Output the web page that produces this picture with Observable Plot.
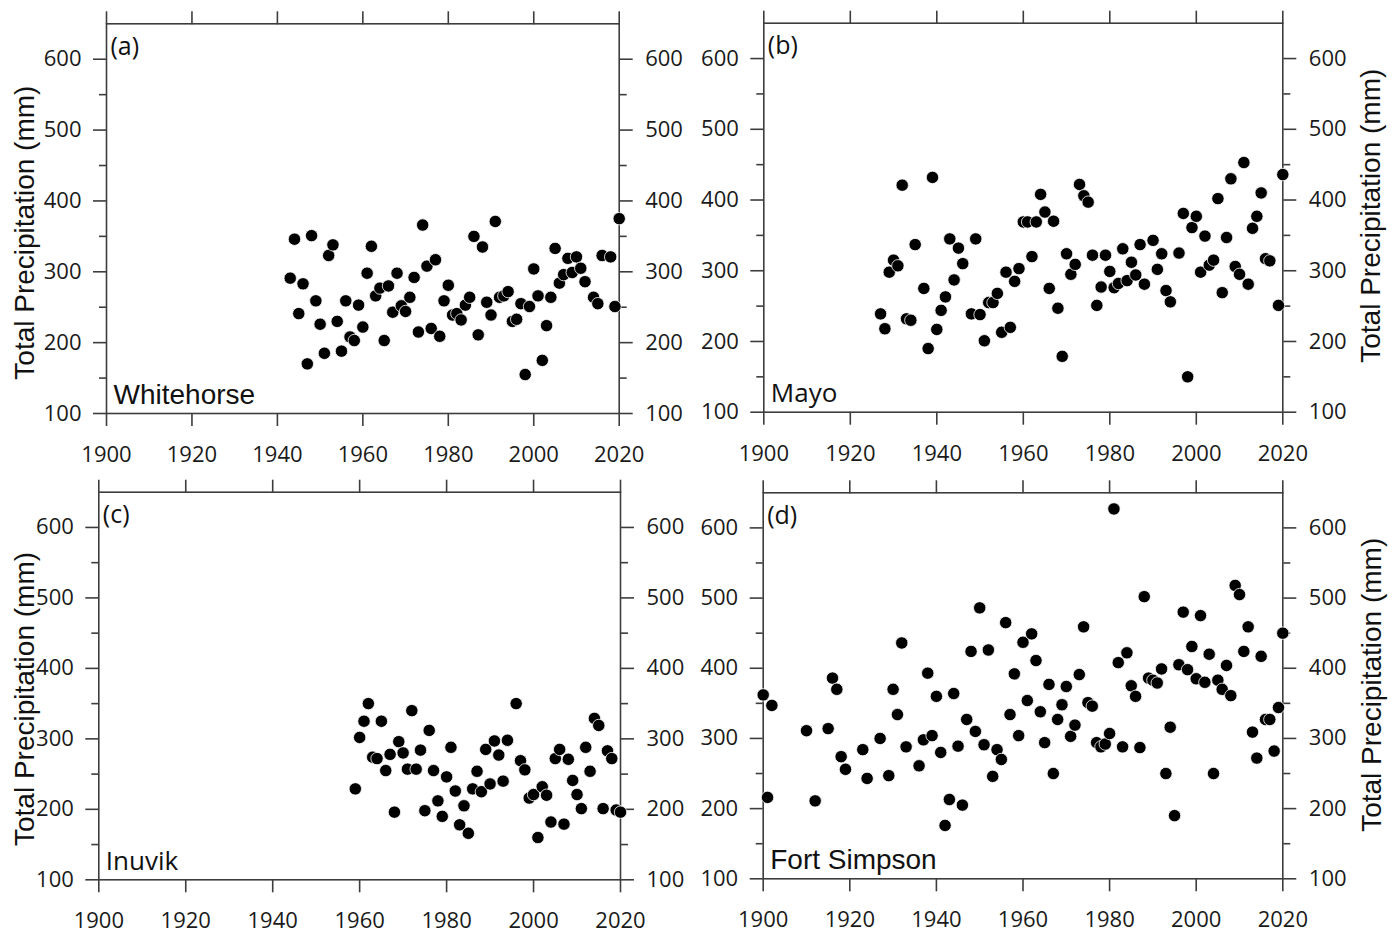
<!DOCTYPE html>
<html>
<head>
<meta charset="utf-8">
<script src="https://cdn.jsdelivr.net/npm/d3@7"></script>
<script src="https://cdn.jsdelivr.net/npm/@observablehq/plot@0.6"></script>
<style>
  html, body { margin: 0; padding: 0; background: #fff; }
  #root { position: relative; width: 1398px; height: 935px; overflow: hidden; background: #fff; }
  #root svg { position: absolute; overflow: visible; }
</style>
</head>
<body>
<div id="root"></div>
<script>
// ---- Data ----
const whitehorseYears = [1943,1944,1945,1946,1947,1948,1949,1950,1951,1952,1953,1954,1955,1956,1957,1958,1959,1960,1961,1962,1963,1964,1965,1966,1967,1968,1969,1970,1971,1972,1973,1974,1975,1976,1977,1978,1979,1980,1981,1982,1983,1984,1985,1986,1987,1988,1989,1990,1991,1992,1993,1994,1995,1996,1997,1998,1999,2000,2001,2002,2003,2004,2005,2006,2007,2008,2009,2010,2011,2012,2014,2015,2016,2018,2019,2020];
const whitehorseValues = [291,346,241,283,170,351,259,226,185,323,338,230,188,259,208,203,253,222,298,336,266,277,203,280,243,298,252,244,264,292,215,366,308,220,317,209,259,281,239,241,232,253,264,350,211,335,257,239,371,264,266,272,230,233,255,155,251,304,266,175,224,264,333,284,296,319,299,321,305,286,264,255,323,321,251,375];

const mayoYears = [1927,1928,1929,1930,1931,1932,1933,1934,1935,1937,1938,1939,1940,1941,1942,1943,1944,1945,1946,1948,1949,1950,1951,1952,1953,1954,1955,1956,1957,1958,1959,1960,1961,1962,1963,1964,1965,1966,1967,1968,1969,1970,1971,1972,1973,1974,1975,1976,1977,1978,1979,1980,1981,1982,1983,1984,1985,1986,1987,1988,1990,1991,1992,1993,1994,1996,1997,1998,1999,2000,2001,2002,2003,2004,2005,2006,2007,2008,2009,2010,2011,2012,2013,2014,2015,2016,2017,2019,2020];
const mayoValues = [239,218,298,315,307,421,232,230,337,275,190,432,217,244,263,345,287,332,310,239,345,238,201,255,255,268,213,298,220,285,303,369,369,320,369,408,383,275,370,247,179,324,295,309,422,406,397,322,251,277,322,299,276,282,331,286,312,294,337,281,343,302,324,272,256,325,381,150,361,377,298,349,308,315,402,269,347,430,306,295,453,281,360,377,410,317,314,251,436];

const inuvikYears = [1959,1960,1961,1962,1963,1964,1965,1966,1967,1968,1969,1970,1971,1972,1973,1974,1975,1976,1977,1978,1979,1980,1981,1982,1983,1984,1985,1986,1987,1988,1989,1990,1991,1992,1993,1994,1996,1997,1998,1999,2000,2001,2002,2003,2004,2005,2006,2007,2008,2009,2010,2011,2012,2013,2014,2015,2016,2017,2018,2019,2020];
const inuvikValues = [229,302,325,350,274,272,325,255,278,196,296,280,257,340,257,284,198,312,255,212,190,246,288,226,178,205,166,229,254,225,285,236,297,277,240,298,350,269,256,216,221,160,232,220,182,272,285,179,271,241,221,201,288,254,329,319,201,283,272,199,196];

const fortSimpsonYears = [1900,1901,1902,1910,1912,1915,1916,1917,1918,1919,1923,1924,1927,1929,1930,1931,1932,1933,1936,1937,1938,1939,1940,1941,1942,1943,1944,1945,1946,1947,1948,1949,1950,1951,1952,1953,1954,1955,1956,1957,1958,1959,1960,1961,1962,1963,1964,1965,1966,1967,1968,1969,1970,1971,1972,1973,1974,1975,1976,1977,1978,1979,1980,1981,1982,1983,1984,1985,1986,1987,1988,1989,1990,1991,1992,1993,1994,1995,1996,1997,1998,1999,2000,2001,2002,2003,2004,2005,2006,2007,2008,2009,2010,2011,2012,2013,2014,2015,2016,2017,2018,2019,2020];
const fortSimpsonValues = [362,216,347,311,211,314,386,370,274,256,284,243,300,247,370,334,436,288,261,298,393,304,360,280,176,213,364,289,205,327,424,310,486,291,426,246,284,270,465,334,392,304,437,354,449,411,338,294,377,250,327,348,374,303,319,391,459,351,346,294,288,292,307,627,408,288,422,375,360,287,502,386,383,379,399,250,316,190,405,480,398,431,385,475,380,420,250,383,370,404,361,518,505,424,459,309,272,417,327,327,282,344,450];

const xTickYears = [1900,1920,1940,1960,1980,2000,2020];
const yMajorTicks = [100,200,300,400,500,600];
const yMinorTicks = [150,250,350,450,550];
const yTitle = "Total Precipitation (mm)";

// ---- Drawing ----
const AXIS = "#3d3d3d";
const ARIAL = "'Liberation Sans', Arial, sans-serif";
const HUMANIST = "'Open Sans', sans-serif";
const TICKFONT = 22;

function panel(o) {
  const data = o.years.map((year, i) => ({year, value: o.values[i]}));
  const common = {label: null, stroke: AXIS, strokeWidth: 1.6, fontSize: TICKFONT, fontFamily: HUMANIST, fill: "#1a1a1a"};
  const svg = Plot.plot({
    width: o.width, height: o.height,
    marginLeft: o.mL, marginRight: o.mR, marginTop: o.mT, marginBottom: o.mB,
    style: {fontFamily: HUMANIST, fontSize: TICKFONT + "px", color: "#1a1a1a", background: "transparent", overflow: "visible"},
    x: {domain: [1900, 2020], label: null},
    y: {domain: [100, 650], label: null},
    marks: [
      Plot.axisX({...common, anchor: "bottom", ticks: xTickYears, tickSize: 13, tickPadding: 20, tickFormat: d => String(d)}),
      Plot.axisX({...common, anchor: "top", ticks: xTickYears, tickSize: 13, tickFormat: () => ""}),
      Plot.axisY({...common, anchor: "left", ticks: yMajorTicks, tickSize: 13, tickPadding: 12}),
      Plot.axisY({...common, anchor: "left", ticks: yMinorTicks, tickSize: 7, tickFormat: () => ""}),
      Plot.axisY({...common, anchor: "right", ticks: yMajorTicks, tickSize: 13, tickPadding: 13}),
      Plot.axisY({...common, anchor: "right", ticks: yMinorTicks, tickSize: 7, tickFormat: () => ""}),
      Plot.frame({stroke: AXIS, strokeWidth: 1.6}),
      Plot.dot(data, {x: "year", y: "value", r: 6.2, fill: "#000", stroke: "#fff", strokeWidth: 0.8}),
      Plot.text([o.station], {text: d => d, frameAnchor: "bottom-left", textAnchor: "start", lineAnchor: "bottom", dx: 7, dy: -10, fontSize: o.stationSize, fontFamily: o.stationFont, fill: "#111"}),
      Plot.text([o.tag], {text: d => d, frameAnchor: "top-left", textAnchor: "start", lineAnchor: "top", dx: 4, dy: 13, fontSize: 25, fontFamily: HUMANIST, fill: "#111"}),
      Plot.text([yTitle], {text: d => d, frameAnchor: o.titleSide, rotate: -90, textAnchor: "middle", lineAnchor: "middle", dx: o.titleDx, dy: o.titleDy, fontSize: 28, fontFamily: ARIAL, fill: "#111"})
    ]
  });
  svg.style.left = o.left + "px";
  svg.style.top = o.top + "px";
  document.getElementById("root").appendChild(svg);
}

panel({years: whitehorseYears, values: whitehorseValues, station: "Whitehorse", tag: "(a)", stationFont: ARIAL, stationSize: 28,
  titleSide: "left", titleDx: -81, titleDy: 14,
  left: 0, top: 0, width: 700, height: 468, mL: 106, mR: 81.3, mT: 23.3, mB: 55});
panel({years: mayoYears, values: mayoValues, station: "Mayo", tag: "(b)", stationFont: HUMANIST, stationSize: 26,
  titleSide: "right", titleDx: 88, titleDy: -2,
  left: 700, top: 0, width: 698, height: 468, mL: 63.3, mR: 115.7, mT: 22.7, mB: 56.3});
panel({years: inuvikYears, values: inuvikValues, station: "Inuvik", tag: "(c)", stationFont: HUMANIST, stationSize: 26,
  titleSide: "left", titleDx: -74, titleDy: 13,
  left: 0, top: 468, width: 700, height: 467, mL: 98.3, mR: 80, mT: 23.7, mB: 55.7});
panel({years: fortSimpsonYears, values: fortSimpsonValues, station: "Fort Simpson", tag: "(d)", stationFont: ARIAL, stationSize: 28,
  titleSide: "right", titleDx: 89, titleDy: -1,
  left: 700, top: 468, width: 698, height: 467, mL: 62.7, mR: 115.7, mT: 24.3, mB: 56.7});
</script>
</body>
</html>
